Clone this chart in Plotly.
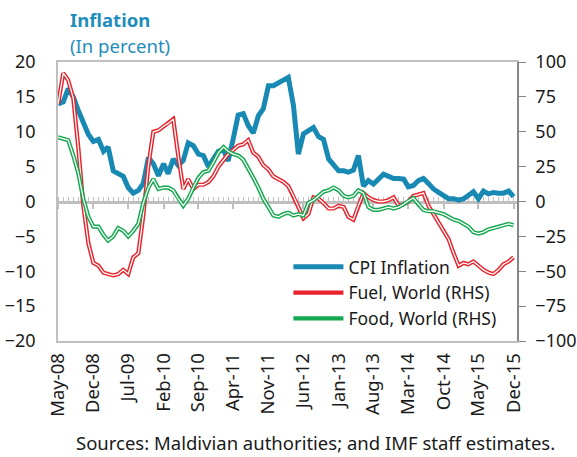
import pandas as pd
import plotly.graph_objects as go

# ---------------- data ----------------
START_MONTH = "2008-05-01"
N_MONTHS = 92

cpi_inflation = [
    14.0, 14.3, 16.2, 15.0, 13.0, 11.4, 9.6, 8.6, 8.9, 7.2,
    7.8, 4.4, 4.1, 3.6, 2.0, 1.2, 1.6, 2.6, 6.3, 5.4,
    3.7, 5.4, 4.0, 6.1, 5.2, 5.9, 8.4, 8.0, 6.8, 6.6,
    5.0, 6.0, 7.2, 7.4, 5.8, 9.0, 12.4, 12.6, 10.9, 9.8,
    12.3, 13.3, 16.6, 16.6, 17.0, 17.6, 17.8, 13.8, 6.8, 9.7,
    10.2, 10.6, 9.3, 8.9, 6.1, 5.3, 4.4, 4.4, 4.2, 4.5,
    6.6, 2.2, 3.0, 2.5, 3.2, 3.9, 3.6, 3.3, 3.3, 3.2,
    2.1, 2.3, 3.0, 3.3, 2.6, 1.8, 1.3, 0.8, 0.4, 0.4,
    0.2, 0.4, 0.9, 1.4, 0.4, 1.5, 1.1, 1.3, 1.2, 1.2,
    1.5, 0.7,
]

fuel_world = [
    70, 92, 87, 74, 38, -3, -30, -44, -46, -51,
    -52, -53, -52, -49, -52, -40, -37, -10, 26, 50,
    51, 54, 56, 59, 33, 9, 16, 9, 12, 12,
    14, 18, 25, 30, 34, 37, 40, 41, 44, 35,
    32, 26, 23, 18, 16, 14, 11, 4, -4, -12,
    -9, 3, 2, -1, -5, -5, -3, -4, -11, -13,
    -3, 6, 3, 1, 0, 0, 1, 3, -3, -2,
    0, 4, 5, 6, -3, -9, -15, -21, -27, -37,
    -46, -44, -45, -43, -46, -49, -51, -52, -49, -45,
    -43, -40,
]

food_world = [
    46, 45, 44, 33, 20, 2, -11, -18, -18, -24,
    -28, -25, -19, -21, -25, -21, -16, -1, 10, 16,
    9, 10, 10, 8, 2, -3, 2, 10, 17, 21,
    22, 28, 35, 39, 36, 34, 33, 30, 24, 17,
    10, 2, -4, -10, -11, -9, -8, -10, -9, -10,
    -1, 1, 4, 7, 8, 10, 8, 4, 3, 4,
    8, 6, -4, -6, -6, -5, -4, -5, -4, -2,
    0.5, 2.5, -2, -6, -7, -7, -8, -9, -11, -13,
    -14, -16, -18, -22, -23, -22, -20, -19, -18, -17,
    -16, -17,
]

tick_labels = ["May-08", "Dec-08", "Jul-09", "Feb-10", "Sep-10", "Apr-11", "Nov-11",
               "Jun-12", "Jan-13", "Aug-13", "Mar-14", "Oct-14", "May-15", "Dec-15"]
left_ticks = [20, 15, 10, 5, 0, -5, -10, -15, -20]
right_ticks = [100, 75, 50, 25, 0, -25, -50, -75, -100]

series_names = ["CPI Inflation", "Fuel, World (RHS)", "Food, World (RHS)"]

# ---------------- styling ----------------
FONT = "Noto Sans, Segoe UI, sans-serif"
TXT = "#1a1a1a"
CPI_C = "#1789b3"
FUEL_C = "#e8232b"
FOOD_C = "#14a850"
TITLE_C = "#1f8dba"
FRAME = "#bfbfbf"
RAXIS = "#868686"

dates = pd.date_range(START_MONTH, periods=N_MONTHS, freq="MS")
tick_vals = dates[::7]

fig = go.Figure()
fig.add_trace(go.Scatter(x=dates, y=cpi_inflation, name=series_names[0], mode="lines",
                         line=dict(color=CPI_C, width=5), yaxis="y"))
fig.add_trace(go.Scatter(x=dates, y=fuel_world, name=series_names[1], mode="lines",
                         line=dict(color=FUEL_C, width=4.2), yaxis="y2"))
fig.add_trace(go.Scatter(x=dates, y=fuel_world, mode="lines", showlegend=False, hoverinfo="skip",
                         line=dict(color="white", width=1.3), yaxis="y2"))
fig.add_trace(go.Scatter(x=dates, y=food_world, name=series_names[2], mode="lines",
                         line=dict(color=FOOD_C, width=4.2), yaxis="y2"))
fig.add_trace(go.Scatter(x=dates, y=food_world, mode="lines", showlegend=False, hoverinfo="skip",
                         line=dict(color="white", width=1.3), yaxis="y2"))
# invisible trace to attach the zero-line axis
fig.add_trace(go.Scatter(x=[dates[0]], y=[0], mode="markers", marker=dict(opacity=0),
                         showlegend=False, hoverinfo="skip", xaxis="x2", yaxis="y"))

x_range = [dates[0] - pd.Timedelta(days=1), pd.Timestamp("2015-12-22")]

fig.update_layout(
    width=577, height=457,
    margin=dict(l=58, r=60, t=62, b=116, autoexpand=False),
    paper_bgcolor="white", plot_bgcolor="white",
    font=dict(family=FONT, size=18, color=TXT),
    showlegend=True,
    legend=dict(x=0.502, y=0.33, xanchor="left", yanchor="top",
                bgcolor="rgba(0,0,0,0)", font=dict(size=17.5, color=TXT),
                tracegroupgap=0, itemwidth=50),
    xaxis=dict(range=x_range, tickvals=tick_vals, ticktext=tick_labels, tickangle=-90,
               showline=True, linecolor=FRAME, linewidth=1.5, mirror=True, automargin=False,
               ticks="outside", ticklen=3, tickcolor="rgba(0,0,0,0)",
               showgrid=False, zeroline=False, tickfont=dict(size=18.5)),
    xaxis2=dict(range=x_range, overlaying="x", anchor="free", position=0.5, side="bottom",
                showline=True, linecolor=FRAME, linewidth=2.5, layer="below traces",
                tickvals=tick_vals, showticklabels=False, automargin=False,
                ticks="outside", ticklen=6, tickwidth=1.5, tickcolor=FRAME,
                minor=dict(ticks="inside", ticklen=4, tickwidth=1.2, tickcolor=FRAME,
                           dtick="M1", tick0=START_MONTH),
                showgrid=False, zeroline=False),
    yaxis=dict(range=[-20, 20], tickvals=left_ticks, showline=True, linecolor=FRAME, linewidth=1.5,
               ticks="outside", ticklen=17, tickcolor="rgba(0,0,0,0)", automargin=False,
               showgrid=False, zeroline=False, tickfont=dict(size=18)),
    yaxis2=dict(range=[-100, 100], tickvals=right_ticks, overlaying="y", side="right",
                showline=True, linecolor=RAXIS, linewidth=1.5, automargin=False,
                ticks="outside", ticklen=7, tickcolor=RAXIS, tickwidth=1.2,
                ticklabelstandoff=6,
                showgrid=False, zeroline=False, tickfont=dict(size=18)),
    annotations=[
        dict(text="<b>Inflation</b>", xref="paper", yref="paper", x=0.022, y=1.152,
             xanchor="left", yanchor="middle", showarrow=False,
             font=dict(size=18.5, color=TITLE_C)),
        dict(text="(In percent)", xref="paper", yref="paper", x=0.022, y=1.058,
             xanchor="left", yanchor="middle", showarrow=False,
             font=dict(size=18.5, color=TITLE_C)),
        dict(text="Sources: Maldivian authorities; and IMF staff estimates.",
             xref="paper", yref="paper", x=0.561, y=-0.364, xanchor="center", yanchor="middle",
             showarrow=False, font=dict(size=18.5, color=TXT)),
    ],
)

fig.write_html("out.html", config={"displayModeBar": False},
               post_script="document.body.style.margin='0px';")
